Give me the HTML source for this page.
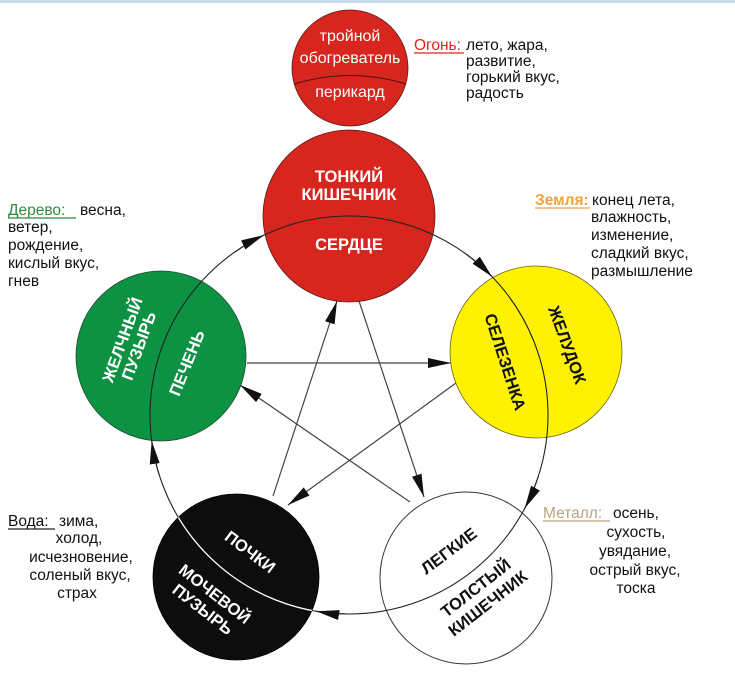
<!DOCTYPE html>
<html><head><meta charset="utf-8"><style>
html,body{margin:0;padding:0;background:#fff;}
svg{display:block;}
text{font-family:"Liberation Sans","DejaVu Sans",sans-serif;font-size:15.5px;fill:#111;}
.w{fill:#fff;}
.b{font-weight:bold;font-size:16.5px;}
.f{font-size:16px;}
</style></head><body>
<svg width="735" height="693" viewBox="0 0 735 693" xmlns="http://www.w3.org/2000/svg">
<defs>
<marker id="ah" markerUnits="userSpaceOnUse" markerWidth="23" markerHeight="10" refX="23" refY="5" orient="auto" viewBox="0 0 23 10">
<path d="M0,0 L23,5 L0,10 Z" fill="#111"/>
</marker>
<clipPath id="cb"><circle cx="236" cy="577" r="83"/></clipPath>
<clipPath id="cf"><circle cx="350" cy="68" r="58"/></clipPath>
</defs>
<rect x="0" y="0" width="735" height="3" fill="#c9d9ec"/>

<!-- star (control) lines -->
<g stroke="#444" stroke-width="1.2" fill="none" marker-end="url(#ah)">
<line x1="247" y1="363" x2="451" y2="363"/>
<line x1="456" y1="383" x2="288" y2="505"/>
<line x1="273" y1="496" x2="337" y2="301"/>
<line x1="359" y1="301" x2="424" y2="497"/>
<line x1="410" y1="502" x2="240" y2="385"/>
</g>

<!-- circles -->
<circle cx="350" cy="68" r="58" fill="#d7261e" stroke="#5a1a16" stroke-width="0.8"/>
<circle cx="349" cy="216" r="86" fill="#d7261e" stroke="#5a1a16" stroke-width="0.8"/>
<circle cx="161" cy="356" r="85" fill="#0d9243" stroke="#1a4a2a" stroke-width="0.8"/>
<circle cx="536" cy="352" r="86" fill="#fff200" stroke="#6a6410" stroke-width="0.8"/>
<circle cx="466" cy="578" r="86" fill="#fff" stroke="#333" stroke-width="1"/>
<circle cx="236" cy="577" r="83" fill="#0d0d0d" stroke="#000" stroke-width="0.8"/>

<!-- generating cycle -->
<circle cx="349" cy="415" r="199" fill="none" stroke="#222" stroke-width="1.1"/>
<circle cx="349" cy="415" r="199" fill="none" stroke="#fff" stroke-width="1.3" clip-path="url(#cb)"/>
<g stroke="#222" stroke-width="1.1" fill="none" marker-end="url(#ah)">
<path d="M 234.9 252 A 199 199 0 0 1 264 235.1"/>
<path d="M 466 254 A 199 199 0 0 1 492.1 276.8"/>
<path d="M 538.3 476.5 A 199 199 0 0 1 524.7 508.4"/>
<path d="M 350.7 614 A 199 199 0 0 1 316.2 611.3"/>
<path d="M 159.2 474.8 A 199 199 0 0 1 151.7 441"/>
</g>

<!-- fire small divider -->
<path d="M 288 86 Q 350 65 412 86" stroke="#4a1210" stroke-width="1" fill="none" clip-path="url(#cf)"/>

<!-- fire small circle text -->
<text class="w f" x="350" y="41" text-anchor="middle">тройной</text>
<text class="w f" x="350" y="63" text-anchor="middle">обогреватель</text>
<text class="w f" x="350" y="97" text-anchor="middle">перикард</text>

<!-- Огонь -->
<text x="414" y="50" style="fill:#e3231b">Огонь:</text>
<line x1="414" y1="53" x2="464" y2="53" stroke="#e3231b" stroke-width="1.2"/>
<text x="466" y="50">лето, жара,</text>
<text x="466" y="66">развитие,</text>
<text x="466" y="82">горький вкус,</text>
<text x="466" y="98">радость</text>

<!-- big red -->
<text class="w b" x="349" y="182" text-anchor="middle">ТОНКИЙ</text>
<text class="w b" x="349" y="200" text-anchor="middle">КИШЕЧНИК</text>
<text class="w b" x="349" y="250" text-anchor="middle">СЕРДЦЕ</text>

<!-- Земля -->
<text x="535" y="205" style="fill:#f2a23a;font-weight:bold">Земля:</text>
<line x1="535" y1="208" x2="590" y2="208" stroke="#f2a23a" stroke-width="1.2"/>
<text x="592" y="205">конец лета,</text>
<text x="591" y="222">влажность,</text>
<text x="591" y="240">изменение,</text>
<text x="591" y="258">сладкий вкус,</text>
<text x="591" y="276">размышление</text>

<!-- Дерево -->
<text x="8" y="215" style="fill:#2e8b3e">Дерево:</text>
<line x1="8" y1="218" x2="76" y2="218" stroke="#2e8b3e" stroke-width="1.2"/>
<text x="80" y="215">весна,</text>
<text x="8" y="232">ветер,</text>
<text x="8" y="250">рождение,</text>
<text x="8" y="268">кислый вкус,</text>
<text x="8" y="286">гнев</text>

<!-- Металл -->
<text x="543" y="518" style="fill:#b3a580">Металл:</text>
<line x1="543" y1="521" x2="610" y2="521" stroke="#b3a580" stroke-width="1.2"/>
<text x="613" y="518">осень,</text>
<text x="636" y="537" text-anchor="middle">сухость,</text>
<text x="635" y="556" text-anchor="middle">увядание,</text>
<text x="635" y="575" text-anchor="middle">острый вкус,</text>
<text x="636" y="593" text-anchor="middle">тоска</text>

<!-- Вода -->
<text x="8" y="526">Вода:</text>
<line x1="8" y1="529" x2="55" y2="529" stroke="#222" stroke-width="1.2"/>
<text x="59" y="526">зима,</text>
<text x="79" y="543" text-anchor="middle">холод,</text>
<text x="81" y="562" text-anchor="middle">исчезновение,</text>
<text x="80" y="580" text-anchor="middle">соленый вкус,</text>
<text x="77" y="598" text-anchor="middle">страх</text>

<!-- green rotated -->
<g transform="translate(131,343) rotate(-70)">
<text class="w b" x="0" y="-3.5" text-anchor="middle">ЖЕЛЧНЫЙ</text>
<text class="w b" x="0" y="14" text-anchor="middle">ПУЗЫРЬ</text>
</g>
<g transform="translate(187,363) rotate(-68)">
<text class="w b" x="0" y="5.5" text-anchor="middle">ПЕЧЕНЬ</text>
</g>

<!-- yellow rotated -->
<g transform="translate(505,362) rotate(72)">
<text class="b" x="0" y="5.5" text-anchor="middle">СЕЛЕЗЕНКА</text>
</g>
<g transform="translate(567,345) rotate(70)">
<text class="b" x="0" y="5.5" text-anchor="middle">ЖЕЛУДОК</text>
</g>

<!-- white rotated -->
<g transform="translate(449,551) rotate(-37)">
<text class="b" x="0" y="5.5" text-anchor="middle">ЛЕГКИЕ</text>
</g>
<g transform="translate(482,596) rotate(-38)">
<text class="b" x="0" y="-4.5" text-anchor="middle">ТОЛСТЫЙ</text>
<text class="b" x="0" y="15" text-anchor="middle">КИШЕЧНИК</text>
</g>

<!-- black rotated -->
<g transform="translate(250,552) rotate(37)">
<text class="w b" x="0" y="5.5" text-anchor="middle">ПОЧКИ</text>
</g>
<g transform="translate(208.5,602) rotate(38)">
<text class="w b" x="0" y="-4.5" text-anchor="middle">МОЧЕВОЙ</text>
<text class="w b" x="0" y="15" text-anchor="middle">ПУЗЫРЬ</text>
</g>
</svg>
</body></html>
